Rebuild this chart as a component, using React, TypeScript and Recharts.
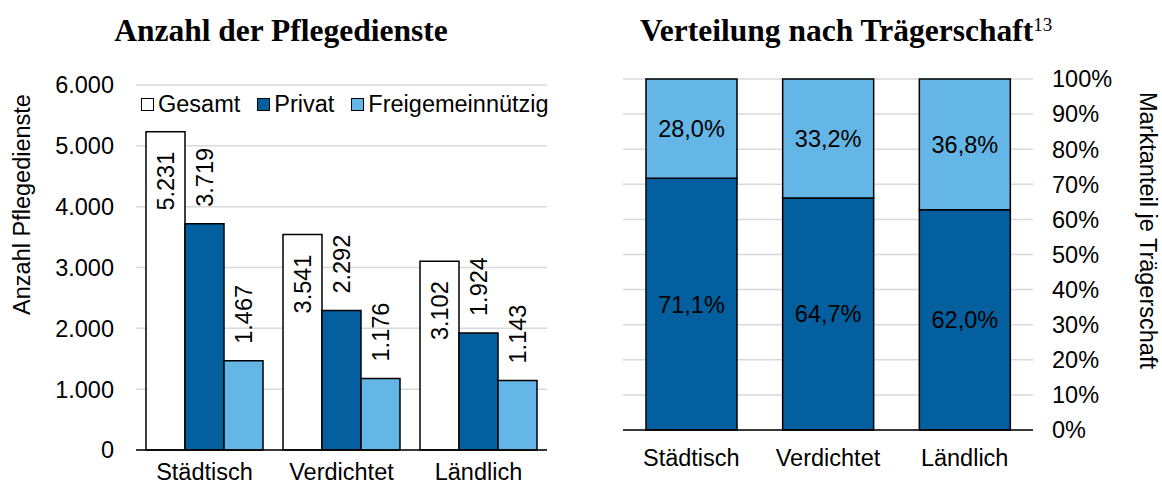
import React from "react";
import { BarChart, Bar, XAxis, YAxis, CartesianGrid, LabelList, Label } from "recharts";

const categories = ["Städtisch", "Verdichtet", "Ländlich"];
const gesamt = [5231, 3541, 3102];
const privat = [3719, 2292, 1924];
const freigemeinnuetzig = [1467, 1176, 1143];
const anzahlTicks = [0, 1000, 2000, 3000, 4000, 5000, 6000];

const anteilPrivat = [71.1, 64.7, 62.0];
const anteilFrei = [28.0, 33.2, 36.8];
const anteilTicks = [0, 0.1, 0.2, 0.3, 0.4, 0.5, 0.6, 0.7, 0.8, 0.9, 1];

const DARK = "#035f9d";
const LIGHT = "#63b6e5";
const FONT = "'Liberation Sans', Arial, sans-serif";
const SERIF = "'Liberation Serif', 'Times New Roman', serif";
const FS = 23.5;

const fmtDe = (v: number) => String(v).replace(/\B(?=(\d{3})+(?!\d))/g, ".");
const fmtPct = (v: number) => v.toFixed(1).replace(".", ",") + "%";

const anzahlData = categories.map((name, i) => ({
  name,
  gesamt: gesamt[i],
  privat: privat[i],
  frei: freigemeinnuetzig[i],
}));

const anteilData = categories.map((name, i) => ({
  name,
  privat: anteilPrivat[i],
  frei: anteilFrei[i],
}));

// rotated value label, either inside the bar top or just above it
const vertLabel = (values: number[], inside: boolean) => (props: any) => {
  const { x, y, width, index } = props;
  const cx = Number(x) + Number(width) / 2;
  const ty = inside ? Number(y) + 20 : Number(y) - 17;
  return (
    <text
      x={cx}
      y={ty}
      dy="0.36em"
      transform={`rotate(-90, ${cx}, ${ty})`}
      textAnchor={inside ? "end" : "start"}
      fontSize={FS}
      fontFamily={FONT}
      fill="#000"
    >
      {fmtDe(values[index])}
    </text>
  );
};

const centerLabel = (values: number[]) => (props: any) => {
  const { x, y, width, height, index } = props;
  return (
    <text
      x={Number(x) + Number(width) / 2}
      y={Number(y) + Number(height) / 2}
      dy="0.36em"
      textAnchor="middle"
      fontSize={FS}
      fontFamily={FONT}
      fill="#000"
    >
      {fmtPct(values[index])}
    </text>
  );
};

const legendItems = [
  { name: "Gesamt", fill: "#fff" },
  { name: "Privat", fill: DARK },
  { name: "Freigemeinnützig", fill: LIGHT },
];

const tickStyle = { fill: "#000", fontSize: FS, fontFamily: FONT };

export default function App() {
  return (
    <div
      style={{
        position: "absolute",
        left: 0,
        top: 0,
        width: 1162,
        height: 486,
        background: "#fff",
        fontFamily: FONT,
        overflow: "hidden",
      }}
    >
      <div
        style={{
          position: "absolute",
          left: 1,
          top: 15,
          width: 560,
          textAlign: "center",
          fontFamily: SERIF,
          fontWeight: "bold",
          fontSize: 31.5,
          lineHeight: "32px",
        }}
      >
        Anzahl der Pflegedienste
      </div>
      <div
        style={{
          position: "absolute",
          left: 640,
          top: 15,
          fontFamily: SERIF,
          fontWeight: "bold",
          fontSize: 31.5,
          lineHeight: "32px",
          whiteSpace: "nowrap",
        }}
      >
        Verteilung nach Trägerschaft
        <span style={{ fontWeight: "normal", fontSize: 19, verticalAlign: "top", position: "relative", top: -6 }}>13</span>
      </div>

      <div style={{ position: "absolute", left: 0, top: 0 }}>
        <BarChart
          width={580}
          height={486}
          data={anzahlData}
          margin={{ top: 85, right: 33, bottom: 6, left: 0 }}
          barGap={0}
          barSize={39}
        >
          <CartesianGrid vertical={false} stroke="#d9d9d9" strokeWidth={1.5} />
          <XAxis
            dataKey="name"
            height={30}
            tickSize={0}
            tickMargin={13}
            tickLine={false}
            axisLine={{ stroke: "#000", strokeWidth: 1.5 }}
            tick={tickStyle}
            interval={0}
          />
          <YAxis
            width={136}
            domain={[0, 6000]}
            ticks={anzahlTicks}
            tickFormatter={fmtDe}
            tickSize={0}
            tickMargin={22}
            tickLine={false}
            axisLine={false}
            tick={tickStyle}
            interval={0}
          >
            <Label
              content={(p: any) => {
                const vb = p.viewBox || {};
                const lx = Number(vb.x) + 22;
                const ly = Number(vb.y) + Number(vb.height) / 2 - 63;
                return (
                  <text
                    x={lx}
                    y={ly}
                    dy="0.36em"
                    textAnchor="middle"
                    transform={`rotate(-90, ${lx}, ${ly})`}
                    fontSize={FS}
                    fontFamily={FONT}
                    fill="#000"
                  >
                    Anzahl Pflegedienste
                  </text>
                );
              }}
            />
          </YAxis>
          <Bar dataKey="gesamt" fill="#fff" stroke="#000" strokeWidth={1.5} isAnimationActive={false}>
            <LabelList dataKey="gesamt" content={vertLabel(gesamt, true)} />
          </Bar>
          <Bar dataKey="privat" fill={DARK} stroke="#000" strokeWidth={1.5} isAnimationActive={false}>
            <LabelList dataKey="privat" content={vertLabel(privat, false)} />
          </Bar>
          <Bar dataKey="frei" fill={LIGHT} stroke="#000" strokeWidth={1.5} isAnimationActive={false}>
            <LabelList dataKey="frei" content={vertLabel(freigemeinnuetzig, false)} />
          </Bar>
        </BarChart>
      </div>

      <div
        style={{
          position: "absolute",
          left: 141,
          top: 90,
          display: "flex",
          alignItems: "center",
          fontSize: FS,
          lineHeight: "28px",
          whiteSpace: "nowrap",
          background: "#fff",
        }}
      >
        {legendItems.map((it) => (
          <span key={it.name} style={{ display: "flex", alignItems: "center", marginRight: 17 }}>
            <span
              style={{
                display: "inline-block",
                width: 11,
                height: 11,
                border: "1.5px solid #000",
                background: it.fill,
                marginRight: 4,
              }}
            />
            {it.name}
          </span>
        ))}
      </div>

      <div style={{ position: "absolute", left: 580, top: 0 }}>
        <BarChart
          width={582}
          height={486}
          data={anteilData}
          stackOffset="expand"
          margin={{ top: 79, right: 0, bottom: 26, left: 43 }}
          barSize={91}
        >
          <CartesianGrid vertical={false} stroke="#d9d9d9" strokeWidth={1.5} />
          <XAxis
            dataKey="name"
            height={30}
            tickSize={0}
            tickMargin={19}
            tickLine={false}
            axisLine={{ stroke: "#000", strokeWidth: 1.5 }}
            tick={tickStyle}
            interval={0}
          />
          <YAxis
            orientation="right"
            width={129}
            domain={[0, 1]}
            ticks={anteilTicks}
            tickFormatter={(v: number) => `${Math.round(v * 100)}%`}
            tickSize={0}
            tickMargin={19}
            tickLine={false}
            axisLine={false}
            tick={tickStyle}
            interval={0}
          >
            <Label
              content={(p: any) => {
                const vb = p.viewBox || {};
                const lx = Number(vb.x) + 115;
                const ly = Number(vb.y) + Number(vb.height) / 2 - 24;
                return (
                  <text
                    x={lx}
                    y={ly}
                    dy="0.36em"
                    textAnchor="middle"
                    transform={`rotate(90, ${lx}, ${ly})`}
                    fontSize={FS}
                    fontFamily={FONT}
                    fill="#000"
                  >
                    Marktanteil je Trägerschaft
                  </text>
                );
              }}
            />
          </YAxis>
          <Bar dataKey="privat" stackId="a" fill={DARK} stroke="#000" strokeWidth={1.5} isAnimationActive={false}>
            <LabelList dataKey="privat" content={centerLabel(anteilPrivat)} />
          </Bar>
          <Bar dataKey="frei" stackId="a" fill={LIGHT} stroke="#000" strokeWidth={1.5} isAnimationActive={false}>
            <LabelList dataKey="frei" content={centerLabel(anteilFrei)} />
          </Bar>
        </BarChart>
      </div>
    </div>
  );
}
